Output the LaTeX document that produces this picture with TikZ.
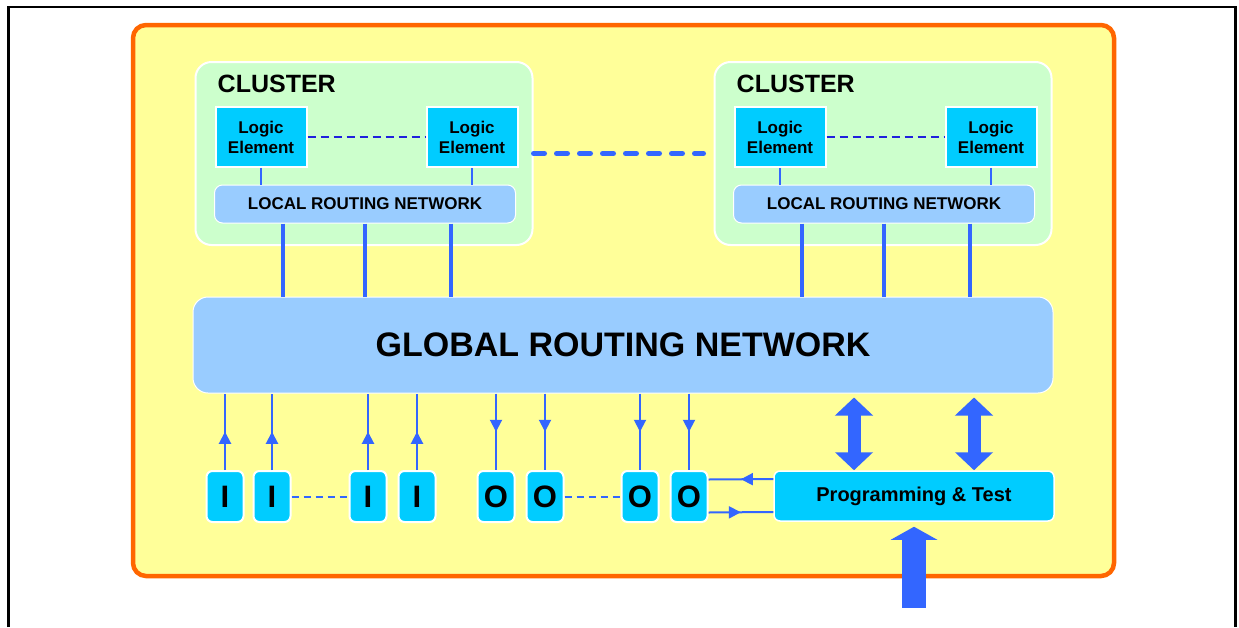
\documentclass[tikz,border=0pt]{standalone}
\usepackage{fontspec}
\setmainfont{Liberation Sans}
\usetikzlibrary{positioning,calc,arrows.meta,decorations.markings}
\definecolor{chipyellow}{HTML}{FFFF99}
\definecolor{chiporange}{HTML}{FF6600}
\definecolor{clustergreen}{HTML}{CCFFCC}
\definecolor{cellcyan}{HTML}{00CCFF}
\definecolor{routeblue}{HTML}{99CCFF}
\definecolor{wireblue}{HTML}{3366FF}
\definecolor{dashblue}{HTML}{2020DD}
\tikzset{
  chip/.style={rectangle, rounded corners=13pt, draw=chiporange, line width=4.5pt, fill=chipyellow, minimum width=981pt, minimum height=551pt},
  cluster/.style={rectangle, rounded corners=16pt, draw=white, line width=2pt, fill=clustergreen, minimum width=337pt, minimum height=183pt, inner sep=0pt},
  clusterlabel/.style={inner sep=0pt, font=\fontsize{25}{30}\selectfont\bfseries},
  logic/.style={rectangle, draw=white, line width=2pt, fill=cellcyan, minimum width=91pt, minimum height=60pt, inner sep=0pt, align=center, font=\fontsize{17}{20}\selectfont\bfseries},
  local/.style={rectangle, rounded corners=8pt, draw=white, line width=1pt, fill=routeblue, minimum width=301pt, minimum height=38pt, inner sep=0pt, font=\fontsize{17}{20}\selectfont\bfseries},
  global/.style={rectangle, rounded corners=15pt, draw=white, line width=1pt, fill=routeblue, minimum width=860pt, minimum height=96pt, inner sep=0pt, font=\fontsize{34}{40}\selectfont\bfseries},
  pin/.style={rectangle, rounded corners=6pt, draw=white, line width=2pt, fill=cellcyan, minimum width=37pt, minimum height=51pt, inner sep=0pt, font=\fontsize{31}{31}\selectfont\bfseries},
  progbox/.style={rectangle, rounded corners=6pt, draw=white, line width=1.5pt, fill=cellcyan, minimum width=280pt, minimum height=50pt, inner sep=0pt, font=\fontsize{20}{24}\selectfont\bfseries},
  wire/.style={draw=wireblue, line width=2pt},
  bus/.style={draw=wireblue, line width=4pt},
  midarrow/.style={postaction={decorate}, decoration={markings, mark=at position 0.5 with {\arrow[wireblue]{Triangle[width=12pt,length=12pt]}}}},
  ledash/.style={draw=dashblue, line width=2.5pt, dash pattern=on 8pt off 5pt},
  pindash/.style={draw=wireblue, line width=2pt, dash pattern=on 7pt off 5pt},
  clusterdash/.style={draw=wireblue, line width=5pt, line cap=round, dash pattern=on 11pt off 12pt},
  fat/.style={draw=wireblue, line width=13pt, {Triangle[width=37pt,length=18pt]}-{Triangle[width=37pt,length=18pt]}}
}
\begin{document}
\begin{tikzpicture}[x=1pt, y=-1pt]
  \useasboundingbox (0,0) rectangle (1239,627);
  % page frame
  \draw[line width=2.5pt] (8.5,627) -- (8.5,7) -- (1235.5,7) -- (1235.5,627);
  \node[chip] (chip) at (623.5,300.5) {};

  \node[global] (GRN) at (623,345) {GLOBAL ROUTING NETWORK};

  % the two clusters
  \foreach \c/\cx in {A/364,B/883}{
    \node[cluster] (C\c) at (\cx,153.5) {};
    \node[clusterlabel, anchor=base west] (T\c) at ([xshift=23pt,yshift=-31pt]C\c.north west) {CLUSTER};
    \node[logic] (L\c1) at ([xshift=-103pt,yshift=16.5pt]C\c.center) {Logic\\Element};
    \node[logic] (L\c2) at ([xshift=108pt,yshift=16.5pt]C\c.center) {Logic\\Element};
    \node[local] (R\c) at ([xshift=1pt,yshift=-50.5pt]C\c.center) {LOCAL ROUTING NETWORK};
    \draw[ledash] (L\c1) -- (L\c2);
    \draw[wire] (L\c1.south) -- (L\c1.south |- R\c.north);
    \draw[wire] (L\c2.south) -- (L\c2.south |- R\c.north);
    \foreach \dx in {-82,0,86}
      \draw[bus] ([xshift=\dx pt]R\c.south) coordinate (b) -- (b |- GRN.north);
  }
  \draw[clusterdash] (CA.east) -- ([xshift=-10pt]CB.west);

  % input and output pins
  \foreach \n/\px in {1/225,2/272,3/368,4/417}{
    \node[pin] (I\n) at (\px,496.5) {I};
    \draw[wire, midarrow] (I\n.north) -- (I\n.north |- GRN.south);
  }
  \foreach \n/\px in {1/496,2/545,3/640,4/689}{
    \node[pin] (O\n) at (\px,496.5) {O};
    \draw[wire, midarrow] (O\n.north |- GRN.south) -- (O\n.north);
  }
  \draw[pindash] (I2.east) -- (I3.west);
  \draw[pindash] (O2.east) -- (O3.west);

  % programming and test
  \node[progbox] (PT) at (914,496) {Programming \& Test};
  \draw[wire, midarrow] ([yshift=17pt]PT.west) -- ([yshift=17pt]O4.east);
  \draw[wire, midarrow] ([yshift=-16pt]O4.east) -- ([yshift=-16pt]PT.west);
  \coordinate (PTl) at ([xshift=-60pt]PT.north);
  \coordinate (PTr) at ([xshift=60pt]PT.north);
  \draw[fat, shorten <=4pt] (PTl |- GRN.south) -- (PTl);
  \draw[fat, shorten <=4pt] (PTr |- GRN.south) -- (PTr);
  \coordinate (PTin) at ([yshift=-86pt]PT.south);
  \draw[draw=wireblue, line width=24pt, -{Triangle[width=46pt,length=13pt]}, shorten >=5pt] (PTin) -- (PT.south);
\end{tikzpicture}
\end{document}
